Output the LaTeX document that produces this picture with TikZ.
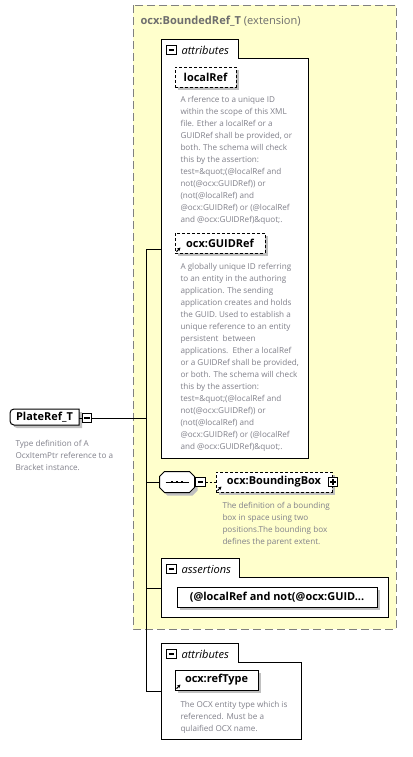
\documentclass[tikz,border=0pt]{standalone}
\usepackage{fontspec}
\setmainfont{Open Sans}
\usetikzlibrary{arrows.meta,shadows}

\definecolor{extfill}{RGB}{255,255,204}
\definecolor{extline}{RGB}{128,128,128}
\definecolor{titlegray}{RGB}{110,110,110}
\definecolor{descgray}{RGB}{128,128,138}
\definecolor{shadowgray}{RGB}{192,192,192}

\tikzset{every picture/.style={line width=0.75pt}}
\tikzset{
  shadowed/.style={drop shadow={shadow xshift=2.25pt,shadow yshift=-2.25pt,fill=shadowgray,opacity=1}},
  elem/.style={draw,fill=white,shadowed,minimum height=15pt,inner sep=0pt,font=\bfseries\fontsize{8.2}{9}\selectfont},
  optelem/.style={elem,dash pattern={on 2.25pt off 1.5pt}},
  desc/.style={anchor=north west,inner sep=0pt,align=left,text=descgray,font=\fontsize{6.1}{9}\selectfont},
  grouplabel/.style={anchor=base west,inner sep=0pt,font=\itshape\fontsize{8.3}{9}\selectfont},
  minusbox/.style={draw,fill=white,minimum size=7pt,inner sep=0pt,
    path picture={\draw[line width=0.8pt] ([xshift=1.4pt]path picture bounding box.west) -- ([xshift=-1.4pt]path picture bounding box.east);}},
  plusbox/.style={draw,fill=white,minimum size=7pt,inner sep=0pt,
    path picture={\draw[line width=0.8pt] ([xshift=1.4pt]path picture bounding box.west) -- ([xshift=-1.4pt]path picture bounding box.east)
      ([yshift=1.4pt]path picture bounding box.south) -- ([yshift=-1.4pt]path picture bounding box.north);}},
  reficon/.style={-{Stealth[length=2.6pt,width=2.6pt]},line width=0.8pt},
  shadowshift/.style={transform canvas={xshift=2.25pt,yshift=-2.25pt}},
}

\begin{document}
\begin{tikzpicture}[x=0.75pt,y=0.75pt,yscale=-1,xscale=1]
	\useasboundingbox (0,0) rectangle (413,757);
	
	%Shape: Extension box [id:ext]
	\draw [fill=extfill, draw=extline, dash pattern={on 6pt off 3pt}] (133,5) rectangle (396,629) ;
	% Text Node
	\node [anchor=base west, inner sep=0pt, text=titlegray, font=\fontsize{8.3}{11}\selectfont] (title) at (140,24) {\textbf{ocx:BoundedRef\_T} (extension)};
	
	%Shape: Group box attributes [id:grpA]
	\draw [fill=white] (161,39) -- (238,39) -- (238,58) -- (308,58) -- (308,458) -- (161,458) -- cycle ;
	\node [minusbox] (grpAm) at (171.5,50) {};
	\node [grouplabel] (grpAlbl) at (181,54) {attributes};
	
	% Element localRef
	\node [optelem, minimum width=45.75pt] (localRef) at (205.5,77) {localRef};
	\node [desc] (localRefDesc) at (180,96) {A rference to a unique ID\\within the scope of this XML\\file. Ether a localRef or a\\GUIDRef shall be provided, or\\both. The schema will check\\this by the assertion:\\test=\&quot;(@localRef and\\not(@ocx:GUIDRef)) or\\(not(@localRef) and\\@ocx:GUIDRef) or (@localRef\\and @ocx:GUIDRef)\&quot;.};
	
	% Element ocx:GUIDRef
	\node [optelem, minimum width=67.5pt] (guidRef) at (220,243) {ocx:GUIDRef};
	\draw [reficon] ([shift={(2,-2)}]guidRef.south west) -- ([shift={(6,-6)}]guidRef.south west) ;
	\node [desc] (guidRefDesc) at (180,263) {A globally unique ID referring\\to an entity in the authoring\\application. The sending\\application creates and holds\\the GUID. Used to establish a\\unique reference to an entity\\persistent\ \ between\\applications.\ \ Ether a localRef\\or a GUIDRef shall be provided,\\or both. The schema will check\\this by the assertion:\\test=\&quot;(@localRef and\\not(@ocx:GUIDRef)) or\\(not(@localRef) and\\@ocx:GUIDRef) or (@localRef\\and @ocx:GUIDRef)\&quot;.};
	
	% Sequence
	\node [minimum width=25.5pt, minimum height=15pt, inner sep=0pt] (seq) at (177,482) {};
	\begin{scope}[shadowshift]
		\fill [shadowgray] ([xshift=3.75pt]seq.north west) -- ([xshift=-3.75pt]seq.north east) -- ([yshift=3.75pt]seq.north east) -- ([yshift=-3.75pt]seq.south east) -- ([xshift=-3.75pt]seq.south east) -- ([xshift=3.75pt]seq.south west) -- ([yshift=-3.75pt]seq.south west) -- ([yshift=3.75pt]seq.north west) -- cycle ;
	\end{scope}
	\draw [fill=white] ([xshift=3.75pt]seq.north west) -- ([xshift=-3.75pt]seq.north east) -- ([yshift=3.75pt]seq.north east) -- ([yshift=-3.75pt]seq.south east) -- ([xshift=-3.75pt]seq.south east) -- ([xshift=3.75pt]seq.south west) -- ([yshift=-3.75pt]seq.south west) -- ([yshift=3.75pt]seq.north west) -- cycle ;
	\draw ([xshift=4.5pt]seq.west) -- ([xshift=-4.5pt]seq.east) ;
	\foreach \dx in {-5,0,5} {
		\fill ([xshift=\dx*0.75pt]seq.center) +(-1.1pt,-1.1pt) rectangle +(1.1pt,1.1pt) ;
	}
	\node [minusbox] (seqm) at (200.5,482) {};
	
	% Element ocx:BoundingBox
	\node [optelem, minimum width=87pt] (bbox) at (274,482) {ocx:BoundingBox};
	\draw [reficon] ([shift={(2,-2)}]bbox.south west) -- ([shift={(6,-6)}]bbox.south west) ;
	\node [plusbox] (bboxp) at (333,482) {};
	\node [desc] (bboxDesc) at (222,502) {The definition of a bounding\\box in space using two\\positions.The bounding box\\defines the parent extent.};
	
	%Shape: Group box assertions [id:grpB]
	\draw [fill=white] (161,558) -- (239,558) -- (239,577) -- (388,577) -- (388,617) -- (161,617) -- cycle ;
	\node [minusbox] (grpBm) at (171.5,569) {};
	\node [grouplabel] (grpBlbl) at (181,573) {assertions};
	\node [elem, minimum width=150pt] (assert) at (277,597) {(@localRef and not(@ocx:GUID...};
	
	%Shape: Group box attributes [id:grpC]
	\draw [fill=white] (161,643) -- (238,643) -- (238,662) -- (301,662) -- (301,739) -- (161,739) -- cycle ;
	\node [minusbox] (grpCm) at (171.5,654) {};
	\node [grouplabel] (grpClbl) at (181,658) {attributes};
	
	% Element ocx:refType
	\node [elem, minimum width=62.25pt] (refType) at (216.5,680) {ocx:refType};
	\draw [reficon] ([shift={(2,-2)}]refType.south west) -- ([shift={(6,-6)}]refType.south west) ;
	\node [desc] (refTypeDesc) at (180,701) {The OCX entity type which is\\referenced. Must be a\\qulaified OCX name.};
	
	% Type PlateRef_T
	\coordinate (plateNW) at (10,409);
	\coordinate (plateSE) at (79,425);
	\begin{scope}[shadowshift]
		\fill [shadowgray] (plateNW -| plateSE) [rounded corners=3pt] -| (plateNW |- plateSE) [sharp corners] -- (plateSE) -- cycle ;
	\end{scope}
	\draw [fill=white] (plateNW -| plateSE) [rounded corners=3pt] -| (plateNW |- plateSE) [sharp corners] -- (plateSE) -- cycle ;
	\node [inner sep=0pt, font=\bfseries\fontsize{8.2}{9}\selectfont] (plate) at (44.5,417) {PlateRef\_T};
	\node [minusbox] (platem) at (87,418) {};
	\node [desc] (plateDesc) at (15,440) {Type definition of A\\OcxItemPtr reference to a\\Bracket instance.};
	
	% Connectors
	\coordinate (jA) at (146,249);
	\coordinate (jC) at (146,691);
	\coordinate (grpA) at (161,249);
	\coordinate (grpB) at (161,588);
	\coordinate (grpC) at (161,691);
	\draw (plateSE |- platem) -- (platem.west) ;
	\draw (platem.east) -- (platem.east -| jA) ;
	\draw (jA) -- (jC) ;
	\draw (jA) -- (grpA) ;
	\draw (seq.west -| jA) -- (seq.west) ;
	\draw (grpB -| jA) -- (grpB) ;
	\draw (jC) -- (grpC) ;
	\draw (seq.east) -- (seqm.west) ;
	\draw [dash pattern={on 1.5pt off 1.5pt}] (seqm.east) -- (bbox.west) ;
	
\end{tikzpicture}
\end{document}
